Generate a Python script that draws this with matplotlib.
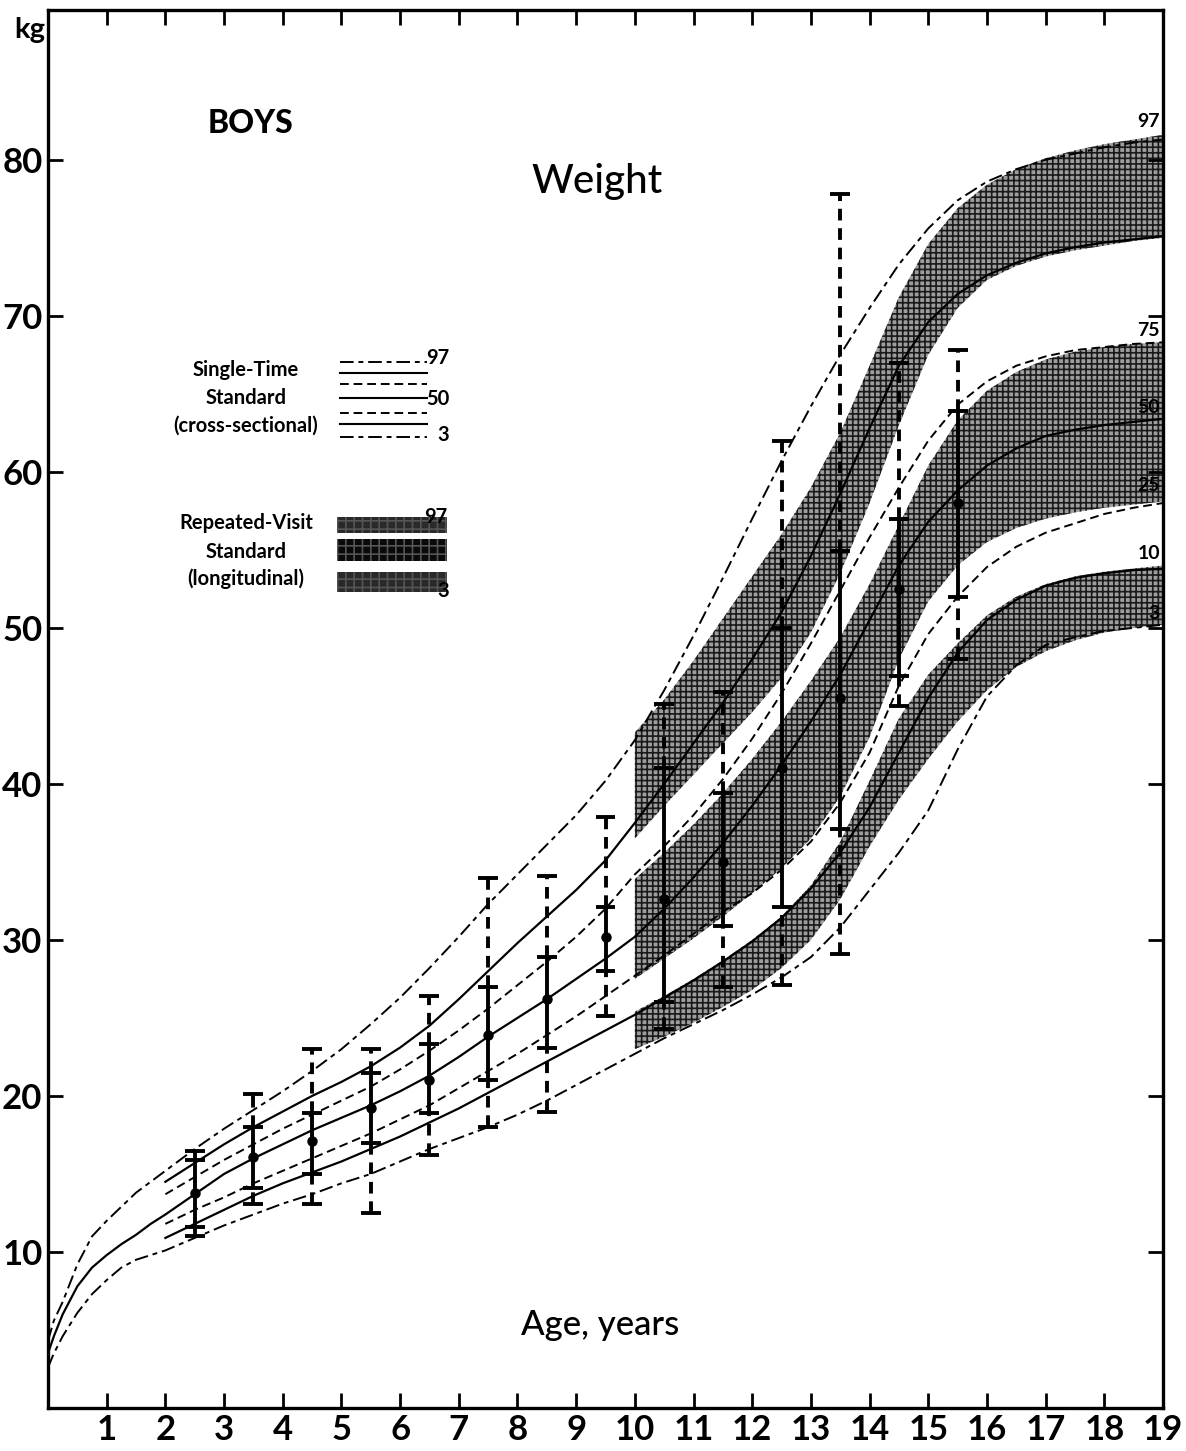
import matplotlib.pyplot as plt
from matplotlib.lines import Line2D
from matplotlib.patches import Rectangle

plt.rcParams['font.family'] = ['Lato', 'DejaVu Sans']
plt.rcParams['hatch.linewidth'] = 1.2

# ---- single-time (cross-sectional) centiles, kg ----
infant_age = [0, 0.1, 0.25, 0.5, 0.75, 1.0, 1.25, 1.5, 1.75]
p97_infant = [4.3, 5.6, 6.8, 9.2, 11.0, 12.0, 12.9, 13.8, 14.5]
p50_infant = [3.5, 4.6, 6.0, 7.8, 9.0, 9.8, 10.5, 11.1, 11.8]
p3_infant = [2.6, 3.5, 4.6, 6.1, 7.3, 8.2, 9.0, 9.5, 9.8]

age = [2, 2.5, 3, 3.5, 4, 4.5, 5, 5.5, 6, 6.5, 7, 7.5, 8, 8.5, 9, 9.5, 10, 10.5,
       11, 11.5, 12, 12.5, 13, 13.5, 14, 14.5, 15, 15.5, 16, 16.5, 17, 17.5, 18, 18.5, 19]
p97 = [15.2, 16.6, 17.9, 19.1, 20.3, 21.6, 23.0, 24.6, 26.3, 28.2, 30.2, 32.3, 34.2, 36.1,
       38.0, 40.2, 42.8, 46.0, 49.5, 53.2, 57.0, 60.7, 64.2, 67.5, 70.5, 73.3, 75.6, 77.4,
       78.6, 79.4, 80.0, 80.4, 80.8, 81.1, 81.3]
p90 = [14.5, 15.7, 16.9, 18.0, 19.0, 20.0, 20.9, 21.9, 23.1, 24.5, 26.2, 28.0, 29.8, 31.5,
       33.2, 35.1, 37.5, 40.0, 42.6, 45.2, 48.0, 51.0, 54.6, 58.6, 62.8, 66.8, 69.6, 71.4,
       72.6, 73.4, 74.0, 74.4, 74.7, 74.9, 75.1]
p75 = [13.7, 14.8, 15.9, 16.9, 17.9, 18.8, 19.7, 20.6, 21.7, 22.9, 24.2, 25.6, 27.1, 28.6,
       30.2, 32.0, 34.2, 36.0, 38.0, 40.3, 42.9, 45.8, 49.0, 52.4, 55.8, 59.0, 62.0, 64.3,
       65.8, 66.8, 67.4, 67.8, 68.0, 68.2, 68.3]
p50 = [12.4, 13.7, 15.0, 16.0, 16.9, 17.8, 18.6, 19.4, 20.3, 21.3, 22.5, 23.8, 25.0, 26.2,
       27.5, 28.8, 30.2, 32.0, 34.0, 36.2, 38.6, 41.2, 44.0, 47.0, 50.5, 54.0, 56.8, 58.8,
       60.4, 61.5, 62.3, 62.7, 63.0, 63.2, 63.4]
p25 = [11.8, 12.7, 13.5, 14.4, 15.2, 16.0, 16.8, 17.6, 18.5, 19.4, 20.5, 21.6, 22.7, 23.9,
       25.1, 26.4, 27.7, 29.0, 30.4, 31.8, 33.0, 34.5, 36.3, 38.8, 42.0, 46.3, 49.6, 52.0,
       53.9, 55.2, 56.1, 56.7, 57.3, 57.7, 58.0]
p10 = [10.9, 11.8, 12.7, 13.6, 14.4, 15.1, 15.8, 16.6, 17.4, 18.3, 19.2, 20.2, 21.2, 22.2,
       23.2, 24.2, 25.2, 26.3, 27.4, 28.6, 29.9, 31.4, 33.3, 35.6, 38.5, 42.0, 45.5, 48.4,
       50.5, 51.8, 52.7, 53.2, 53.5, 53.7, 53.8]
p3 = [10.1, 10.9, 11.7, 12.4, 13.1, 13.7, 14.4, 15.0, 15.8, 16.6, 17.3, 18.0, 18.8, 19.7,
      20.7, 21.7, 22.7, 23.7, 24.6, 25.5, 26.5, 27.6, 28.9, 30.8, 33.2, 35.6, 38.3, 42.2,
      45.6, 47.6, 48.9, 49.4, 49.8, 50.0, 50.2]

# ---- repeated-visit (longitudinal) bands ----
band_age = [10, 10.5, 11, 11.5, 12, 12.5, 13, 13.5, 14, 14.5, 15, 15.5, 16, 16.5, 17, 17.5, 18, 18.5, 19]
top_hi = [43.3, 45.4, 47.9, 50.6, 53.3, 56.0, 59.0, 62.5, 66.8, 71.2, 74.6, 76.9, 78.4, 79.4,
          80.1, 80.6, 81.0, 81.3, 81.6]
top_lo = [36.5, 38.6, 40.6, 42.6, 44.6, 46.8, 49.7, 53.5, 58.0, 63.0, 67.5, 70.5, 72.3, 73.2,
          73.8, 74.2, 74.5, 74.8, 75.0]
mid_hi = [33.9, 35.6, 37.4, 39.4, 41.6, 44.0, 46.6, 49.4, 52.8, 56.6, 60.4, 63.3, 65.2, 66.4,
          67.2, 67.7, 68.0, 68.2, 68.3]
mid_lo = [27.5, 28.8, 30.1, 31.5, 33.0, 34.6, 36.5, 39.2, 43.0, 48.0, 51.7, 54.0, 55.5, 56.4,
          57.0, 57.4, 57.7, 57.9, 58.1]
low_hi = [25.4, 26.4, 27.5, 28.7, 30.0, 31.5, 33.5, 36.3, 40.2, 44.2, 47.0, 49.0, 50.8, 52.0,
          52.8, 53.3, 53.6, 53.8, 54.0]
low_lo = [23.0, 23.8, 24.7, 25.7, 26.8, 28.2, 30.0, 32.6, 36.0, 39.0, 41.6, 44.0, 46.0, 47.5,
          48.5, 49.2, 49.7, 50.0, 50.2]

# ---- observed ranges at half years: outer low, inner low, median, inner high, outer high ----
bar_age = [2.5, 3.5, 4.5, 5.5, 6.5, 7.5, 8.5, 9.5, 10.5, 11.5, 12.5, 13.5, 14.5, 15.5]
bar_lo = [11.0, 13.1, 13.1, 12.5, 16.2, 18.0, 19.0, 25.1, 24.3, 27.0, 27.1, 29.1, 45.0, 48.0]
bar_q1 = [11.6, 14.1, 15.0, 17.0, 18.9, 21.0, 23.1, 28.0, 26.0, 30.9, 32.1, 37.1, 46.9, 52.0]
bar_med = [13.8, 16.1, 17.1, 19.2, 21.0, 23.9, 26.2, 30.2, 32.6, 35.0, 41.0, 45.5, 52.5, 58.0]
bar_q3 = [15.9, 18.0, 18.9, 21.5, 23.3, 27.0, 28.9, 32.1, 41.0, 39.4, 50.0, 54.9, 57.0, 63.9]
bar_hi = [16.5, 20.1, 23.0, 23.0, 26.4, 34.0, 34.1, 37.9, 45.1, 45.9, 62.0, 77.8, 67.0, 67.8]

band_labels = ['97', '75', '50', '25', '10', '3']
band_label_kg = [81.9, 68.5, 63.6, 58.6, 54.2, 50.4]

W, H = 1186, 1451
fig = plt.figure(figsize=(W / 100, H / 100), dpi=100)
ax = fig.add_axes([48 / W, 1 - 1408 / H, (1163 - 48) / W, (1408 - 10) / H])
ax.set_xlim(0, 19)
ax.set_ylim(0, 89.6)

dashdot = (0, (7, 2.5, 2.5, 2.5))
dashed = (0, (4.5, 2.5))

# shaded bands
for lo, hi in [(top_lo, top_hi), (mid_lo, mid_hi), (low_lo, low_hi)]:
    ax.fill_between(band_age, lo, hi, facecolor='#9d9d9d', edgecolor='#1a1a1a',
                    hatch='+++', linewidth=0, zorder=1)

# cross-sectional curves
ax.plot(infant_age + age, p97_infant + p97, color='k', lw=1.4, ls=dashdot, zorder=3)
ax.plot(infant_age + age, p50_infant + p50, color='k', lw=1.6, zorder=3)
ax.plot(infant_age + age, p3_infant + p3, color='k', lw=1.4, ls=dashdot, zorder=3)
ax.plot(age, p90, color='k', lw=1.6, zorder=3)
ax.plot(age, p75, color='k', lw=1.4, ls=dashed, zorder=3)
ax.plot(age, p25, color='k', lw=1.4, ls=dashed, zorder=3)
ax.plot(age, p10, color='k', lw=1.6, zorder=3)

# range bars
cw = 0.17
for a, lo, q1, m, q3, hi in zip(bar_age, bar_lo, bar_q1, bar_med, bar_q3, bar_hi):
    ax.plot([a, a], [lo, q1], color='k', lw=2.8, ls=(0, (3, 2)), zorder=4)
    ax.plot([a, a], [q3, hi], color='k', lw=2.8, ls=(0, (3, 2)), zorder=4)
    ax.plot([a, a], [q1, q3], color='k', lw=2.8, zorder=4, solid_capstyle='butt')
    ax.hlines([lo, q1, q3, hi], a - cw, a + cw, color='k', lw=2.8, zorder=4)
    ax.plot(a, m, 'o', color='k', ms=6.5, zorder=5)

for lab, kg in zip(band_labels, band_label_kg):
    ax.text(18.95, kg, lab, ha='right', va='bottom', fontsize=14, weight='bold', zorder=6)

# axes styling
for s in ax.spines.values():
    s.set_linewidth(2.4)
ax.set_xticks(range(1, 20))
ax.set_yticks(range(10, 90, 10))
ax.tick_params(direction='in', length=11, width=2.0, top=True, right=True,
               labelsize=25, pad=4)
for lbl in ax.get_xticklabels() + ax.get_yticklabels():
    lbl.set_fontweight('bold')

# titles
ax.text(3.45, 82.3, 'BOYS', ha='center', va='center', fontsize=23, weight='black')
ax.text(9.35, 78.6, 'Weight', ha='center', va='center', fontsize=29, weight='medium')
ax.text(9.4, 5.3, 'Age, years', ha='center', va='center', fontsize=25, weight='medium')
fig.text(30 / W, 1 - 30 / H, 'kg', ha='center', va='center', fontsize=21, weight='bold')


def fx(px):
    return px / W


def fy(py):
    return 1 - py / H


# legend: single-time standard
for t, py in [('Single-Time', 370), ('Standard', 398), ('(cross-sectional)', 426)]:
    fig.text(fx(246), fy(py), t, ha='center', va='center', fontsize=14.5, weight='bold')
leg_rows = [(362, dashdot, 1.4), (373, '-', 1.5), (384, dashed, 1.4), (398, '-', 1.5),
            (413, dashed, 1.4), (424, '-', 1.5), (437, dashdot, 1.4)]
for py, ls, lw in leg_rows:
    fig.add_artist(Line2D([fx(340), fx(427)], [fy(py), fy(py)], color='k', ls=ls, lw=lw))
fig.text(fx(426), fy(358), '97', ha='left', va='center', fontsize=14.5, weight='bold')
fig.text(fx(426), fy(399), '50', ha='left', va='center', fontsize=14.5, weight='bold')
fig.text(fx(437), fy(435), '3', ha='left', va='center', fontsize=14.5, weight='bold')

# legend: repeated-visit standard
for t, py in [('Repeated-Visit', 523), ('Standard', 552), ('(longitudinal)', 579)]:
    fig.text(fx(246), fy(py), t, ha='center', va='center', fontsize=14.5, weight='bold')
for y0, y1, fc in [(517, 533, '#2a2a2a'), (539, 561, '#0a0a0a'), (572, 592, '#2a2a2a')]:
    fig.add_artist(Rectangle((fx(337), fy(y1)), fx(447) - fx(337), fy(y0) - fy(y1),
                             facecolor=fc, edgecolor='#555555', hatch='++', lw=0))
fig.text(fx(424), fy(517), '97', ha='left', va='center', fontsize=14.5, weight='bold')
fig.text(fx(437), fy(591), '3', ha='left', va='center', fontsize=14.5, weight='bold')

fig.savefig('out.png', dpi=100)
